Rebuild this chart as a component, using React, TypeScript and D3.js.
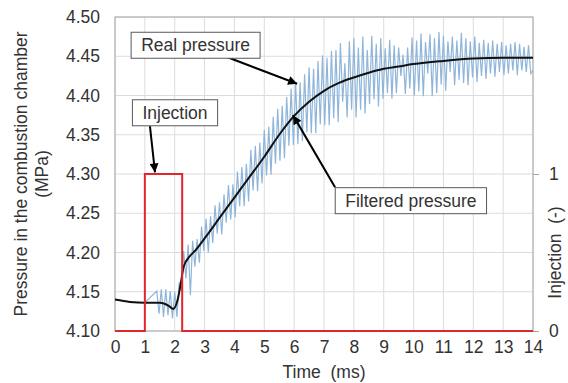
import React, { useEffect, useRef } from "react";
import * as d3 from "d3";

const timeTicks = [0, 1, 2, 3, 4, 5, 6, 7, 8, 9, 10, 11, 12, 13, 14];
const pressureTicks = [4.1, 4.15, 4.2, 4.25, 4.3, 4.35, 4.4, 4.45, 4.5];
const injectionTicks = [0, 1];

// filtered pressure [time ms, MPa]
const filteredPressure: [number, number][] = [
    [0, 4.14], [0.5, 4.137], [1.0, 4.136], [1.5, 4.136], [1.8, 4.132],
    [1.95, 4.128], [2.1, 4.14], [2.2, 4.16], [2.3, 4.182], [2.5, 4.195],
    [2.7, 4.203], [3.0, 4.218], [3.5, 4.244], [4.0, 4.27], [4.5, 4.296],
    [5.0, 4.322], [5.5, 4.35], [6.0, 4.374], [6.5, 4.392], [7.0, 4.406],
    [7.5, 4.416], [8.0, 4.423], [8.5, 4.429], [9.0, 4.434], [9.5, 4.437],
    [10, 4.44], [11, 4.444], [12, 4.447], [13, 4.448], [14, 4.448],
];

// real pressure: smooth start, then sampled every 0.075 ms from 1.4 ms
const realLead: [number, number][] = [[0, 4.14], [0.5, 4.137], [1.0, 4.136]];
const realStart = 1.4;
const realStep = 0.075;
const realPressure = [
    4.151, 4.122, 4.153, 4.118, 4.153, 4.12, 4.151, 4.116, 4.15, 4.118,
    4.162, 4.151, 4.202, 4.167, 4.21, 4.146, 4.215, 4.182, 4.217, 4.187,
    4.233, 4.202, 4.243, 4.2, 4.246, 4.212, 4.26, 4.224, 4.264, 4.223,
    4.274, 4.238, 4.286, 4.242, 4.287, 4.245, 4.303, 4.259, 4.309, 4.259,
    4.313, 4.265, 4.331, 4.279, 4.336, 4.278, 4.34, 4.288, 4.356, 4.298,
    4.36, 4.299, 4.373, 4.313, 4.383, 4.317, 4.387, 4.32, 4.398, 4.336,
    4.409, 4.337, 4.416, 4.338, 4.417, 4.342, 4.427, 4.353, 4.436, 4.352,
    4.434, 4.352, 4.444, 4.363, 4.451, 4.362, 4.448, 4.362, 4.457, 4.371,
    4.458, 4.366, 4.467, 4.392, 4.441, 4.372, 4.469, 4.382, 4.473, 4.372,
    4.461, 4.382, 4.475, 4.377, 4.458, 4.389, 4.476, 4.395, 4.466, 4.386,
    4.473, 4.396, 4.46, 4.403, 4.471, 4.396, 4.464, 4.403, 4.461, 4.425,
    4.452, 4.402, 4.461, 4.409, 4.474, 4.4, 4.47, 4.405, 4.479, 4.399,
    4.468, 4.428, 4.478, 4.399, 4.473, 4.403, 4.481, 4.414, 4.476, 4.406,
    4.469, 4.43, 4.475, 4.413, 4.47, 4.42, 4.48, 4.416, 4.473, 4.413,
    4.469, 4.423, 4.475, 4.417, 4.467, 4.425, 4.471, 4.421, 4.467, 4.428,
    4.47, 4.424, 4.466, 4.43, 4.468, 4.426, 4.464, 4.428, 4.466, 4.432,
    4.468, 4.426, 4.466, 4.432, 4.462, 4.43, 4.464, 4.428, 4.432,
];

// injection signal [time ms, 0/1]
const injection: [number, number][] = [
    [0, 0], [1, 0], [1, 1], [2.25, 1], [2.25, 0], [14, 0],
];

const annotations = [
    { label: "Real pressure", box: [2.7, 4.464], from: [3.75, 4.449], to: [6.1, 4.415] },
    { label: "Injection", box: [2.01, 4.378], from: [1.17, 4.361], to: [1.34, 4.302] },
    { label: "Filtered pressure", box: [9.91, 4.266], from: [7.37, 4.283], to: [5.96, 4.375] },
];

const width = 568;
const height = 383;
const margins = { top: 17, right: 35, bottom: 52, left: 115 };
const font = "'Liberation Sans', Arial, sans-serif";
const textColor = "#333";

const App: React.FC = () => {
    const svgRef = useRef<SVGSVGElement | null>(null);

    useEffect(() => {
        if (!svgRef.current) return;
        const svg = d3.select(svgRef.current);
        svg.selectAll("*").remove();

        const x = d3.scaleLinear().domain([0, 14]).range([margins.left, width - margins.right]);
        const y = d3.scaleLinear().domain([4.1, 4.5]).range([height - margins.bottom, margins.top]);
        const yInj = d3.scaleLinear().domain([0, 1]).range([y(4.1), y(4.3)]);

        svg.append("defs")
            .append("marker")
            .attr("id", "arrow")
            .attr("markerUnits", "userSpaceOnUse")
            .attr("viewBox", "0 0 10 10")
            .attr("refX", 10)
            .attr("refY", 5)
            .attr("markerWidth", 11)
            .attr("markerHeight", 9)
            .attr("orient", "auto")
            .append("path")
            .attr("d", "M0,0 L10,5 L0,10 Z")
            .attr("fill", "#000");

        // grid
        svg.append("g")
            .selectAll("line")
            .data(timeTicks)
            .join("line")
            .attr("x1", (d) => x(d))
            .attr("x2", (d) => x(d))
            .attr("y1", y(4.1))
            .attr("y2", y(4.5))
            .attr("stroke", "#dcdcdc");
        svg.append("g")
            .selectAll("line")
            .data(pressureTicks)
            .join("line")
            .attr("x1", x(0))
            .attr("x2", x(14))
            .attr("y1", (d) => y(d))
            .attr("y2", (d) => y(d))
            .attr("stroke", "#dcdcdc");

        // frame
        svg.append("rect")
            .attr("x", x(0))
            .attr("y", y(4.5))
            .attr("width", x(14) - x(0))
            .attr("height", y(4.1) - y(4.5))
            .attr("fill", "none")
            .attr("stroke", "#a6a6a6");

        // left axis
        svg.append("g")
            .attr("transform", `translate(${x(0)},0)`)
            .call(d3.axisLeft(y).tickValues(pressureTicks).tickFormat(d3.format(".2f")).tickSize(0).tickPadding(15))
            .call((g) => g.select(".domain").remove())
            .call((g) => g.selectAll("text").attr("font-size", 17.5).attr("font-family", font).attr("fill", textColor));

        // bottom axis
        svg.append("g")
            .attr("transform", `translate(0,${y(4.1)})`)
            .call(d3.axisBottom(x).tickValues(timeTicks).tickFormat(d3.format("d")).tickSize(0).tickPadding(10))
            .call((g) => g.select(".domain").remove())
            .call((g) => g.selectAll("text").attr("font-size", 17.5).attr("font-family", font).attr("fill", textColor));

        // right axis
        svg.append("g")
            .attr("transform", `translate(${x(14)},0)`)
            .call(d3.axisRight(yInj).tickValues(injectionTicks).tickFormat(d3.format("d")).tickSize(6).tickPadding(10))
            .call((g) => g.select(".domain").remove())
            .call((g) => g.selectAll("line").attr("stroke", "#a6a6a6"))
            .call((g) => g.selectAll("text").attr("font-size", 17.5).attr("font-family", font).attr("fill", textColor));

        // axis titles
        svg.append("text")
            .attr("x", (x(0) + x(14)) / 2)
            .attr("y", 378)
            .attr("text-anchor", "middle")
            .attr("font-size", 17.5)
            .attr("font-family", font)
            .attr("fill", textColor)
            .attr("xml:space", "preserve")
            .text("Time  (ms)");

        const leftTitle = svg.append("text")
            .attr("transform", `translate(27,${(y(4.1) + y(4.5)) / 2}) rotate(-90)`)
            .attr("text-anchor", "middle")
            .attr("font-size", 17.5)
            .attr("font-family", font)
            .attr("fill", textColor);
        leftTitle.append("tspan").attr("x", 0).attr("dy", 0).text("Pressure in the combustion chamber");
        leftTitle.append("tspan").attr("x", 0).attr("dy", 21).text("(MPa)");

        svg.append("text")
            .attr("transform", `translate(561,${yInj(0.5)}) rotate(-90)`)
            .attr("text-anchor", "middle")
            .attr("font-size", 17.5)
            .attr("font-family", font)
            .attr("fill", textColor)
            .attr("xml:space", "preserve")
            .text("Injection  (-)");

        // real pressure
        const realSeries: [number, number][] = [
            ...realLead,
            ...realPressure.map((v, i) => [realStart + i * realStep, v] as [number, number]),
        ];
        svg.append("path")
            .datum(realSeries)
            .attr("fill", "none")
            .attr("stroke", "#8fb6da")
            .attr("stroke-width", 1.2)
            .attr("d", d3.line<[number, number]>().x((d) => x(d[0])).y((d) => y(d[1])));

        // filtered pressure
        svg.append("path")
            .datum(filteredPressure)
            .attr("fill", "none")
            .attr("stroke", "#111")
            .attr("stroke-width", 2)
            .attr("d", d3.line<[number, number]>().x((d) => x(d[0])).y((d) => y(d[1])).curve(d3.curveMonotoneX));

        // injection
        svg.append("path")
            .datum(injection)
            .attr("fill", "none")
            .attr("stroke", "#e3262b")
            .attr("stroke-width", 2)
            .attr("d", d3.line<[number, number]>().x((d) => x(d[0])).y((d) => yInj(d[1])));

        // annotations
        annotations.forEach((a) => {
            svg.append("line")
                .attr("x1", x(a.from[0]))
                .attr("y1", y(a.from[1]))
                .attr("x2", x(a.to[0]))
                .attr("y2", y(a.to[1]))
                .attr("stroke", "#000")
                .attr("stroke-width", 2)
                .attr("marker-end", "url(#arrow)");

            const g = svg.append("g");
            const rect = g.append("rect").attr("fill", "#fff").attr("stroke", "#595959").attr("stroke-width", 1);
            const t = g.append("text")
                .attr("x", x(a.box[0]))
                .attr("y", y(a.box[1]) + 6)
                .attr("text-anchor", "middle")
                .attr("font-size", 17.5)
                .attr("font-family", font)
                .attr("fill", textColor)
                .text(a.label);
            const bb = (t.node() as SVGTextElement).getBBox();
            rect.attr("x", bb.x - 10)
                .attr("y", y(a.box[1]) - 13)
                .attr("width", bb.width + 20)
                .attr("height", 26);
        });
    }, []);

    return (
        <svg
            ref={svgRef}
            width={width}
            height={height}
            viewBox={`0 0 ${width} ${height}`}
            style={{ position: "absolute", left: 0, top: 0, background: "#fff" }}
        />
    );
};

export default App;
